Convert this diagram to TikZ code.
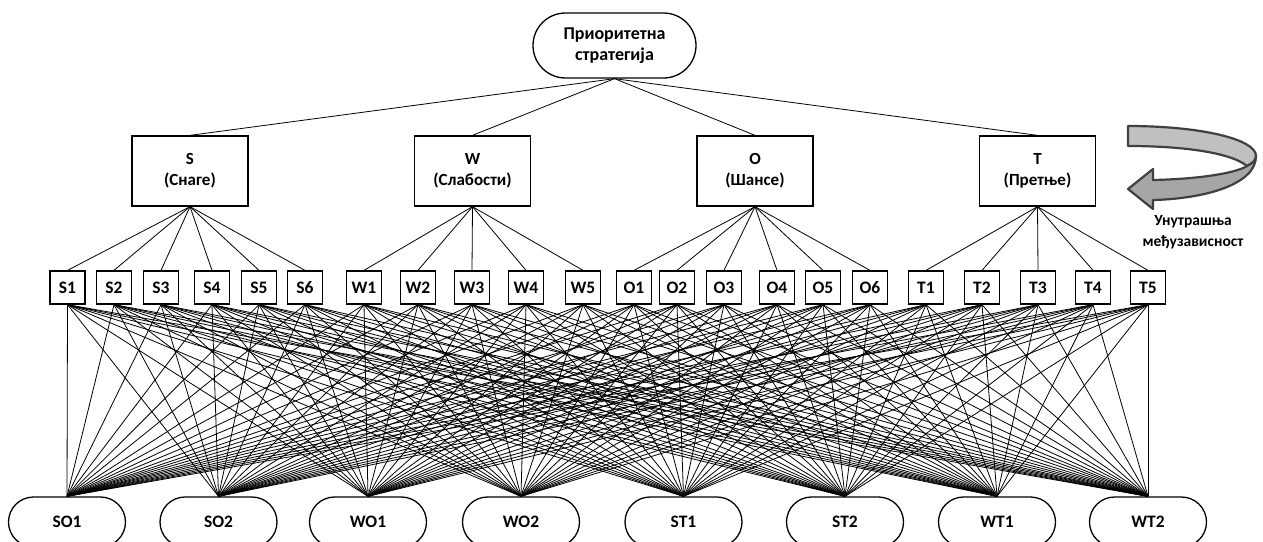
\documentclass[tikz,border=0pt]{standalone}
\usepackage{fontspec}
\setmainfont{Carlito}
\definecolor{grisclair}{HTML}{C0C0C0}
\definecolor{grisfonce}{HTML}{A6A6A6}
\definecolor{grisbord}{HTML}{404040}
\begin{document}
\begin{tikzpicture}[x=1pt,y=-1pt,
  sommet/.style={draw,line width=1.3pt,rounded corners=32.5pt,minimum width=163pt,minimum height=65pt,
    inner sep=0pt,align=center,font=\bfseries\fontsize{18}{21}\selectfont},
  boite/.style={draw,line width=1.3pt,minimum width=116pt,minimum height=70pt,
    inner sep=0pt,align=center,font=\bfseries\fontsize{17}{21}\selectfont},
  petit/.style={draw,line width=1.3pt,minimum width=35pt,minimum height=33pt,
    inner sep=0pt,font=\bfseries\fontsize{17.5}{18}\selectfont},
  ovale/.style={draw,line width=1.3pt,rounded corners=25pt,minimum width=117pt,minimum height=50pt,
    inner sep=0pt,font=\bfseries\fontsize{17.5}{18}\selectfont},
  lien/.style={line width=0.8pt}]

\useasboundingbox (0,0) rectangle (1263,541);
\clip (0,0) rectangle (1263,541);

% Objectif
\node[sommet] (strat) at (614.5,45.5) {Приоритетна\\стратегија};

% Criteres
\node[boite] (S) at (190,171) {S\\(Снаге)};
\node[boite] (W) at (472.5,171) {W\\(Слабости)};
\node[boite] (O) at (755,171) {O\\(Шансе)};
\node[boite] (T) at (1037.5,171) {T\\(Претње)};

% Sous-criteres
\foreach \nom/\x in {S1/67.5,S2/114,S3/161,S4/212,S5/259,S6/305,
                     W1/364,W2/418,W3/472,W4/526,W5/583,
                     O1/634,O2/677,O3/724,O4/777,O5/823,O6/870,
                     T1/926,T2/982,T3/1038,T4/1093,T5/1148}
  \node[petit] (\nom) at (\x,287.5) {\nom};

% Alternatives
\foreach \nom/\x in {SO1/67,SO2/218.5,WO1/368,WO2/521,ST1/683.5,ST2/845,WT1/997,WT2/1148}
  \node[ovale] (\nom) at (\x,522) {\nom};

% Liens
\foreach \c in {S,W,O,T}
  \draw[lien] (strat.south) -- (\c.north);
\foreach \s in {1,...,6} {
  \draw[lien] (S.south) -- (S\s.north);
  \draw[lien] (O.south) -- (O\s.north);
}
\foreach \s in {1,...,5} {
  \draw[lien] (W.south) -- (W\s.north);
  \draw[lien] (T.south) -- (T\s.north);
}
\foreach \s in {S1,S2,S3,S4,S5,S6,W1,W2,W3,W4,W5,O1,O2,O3,O4,O5,O6,T1,T2,T3,T4,T5}
  \foreach \a in {SO1,SO2,WO1,WO2,ST1,ST2,WT1,WT2}
    \draw[lien] (\s.south) -- (\a.north);

% Fleche courbe
\filldraw[fill=grisclair,draw=grisbord,line width=2.2pt,line join=round]
  (1128,126) .. controls (1200,126) and (1256,139) .. (1256,156)
  .. controls (1256,160) and (1253,163) .. (1247,166)
  .. controls (1230,152) and (1180,146) .. (1128,146) -- cycle;
\filldraw[fill=grisfonce,draw=grisbord,line width=2.2pt,line join=round]
  (1256,156) .. controls (1256,186) and (1200,199) .. (1153,200)
  -- (1153,209) -- (1128,189) -- (1153,169) -- (1153,180)
  .. controls (1200,179) and (1236,173) .. (1247,166)
  .. controls (1253,163) and (1256,160) .. (1256,156) -- cycle;
\node[font=\bfseries\fontsize{15.5}{21}\selectfont,align=center] (inter) at (1193,232)
  {Унутрашња\\међузависност};

\end{tikzpicture}
\end{document}
